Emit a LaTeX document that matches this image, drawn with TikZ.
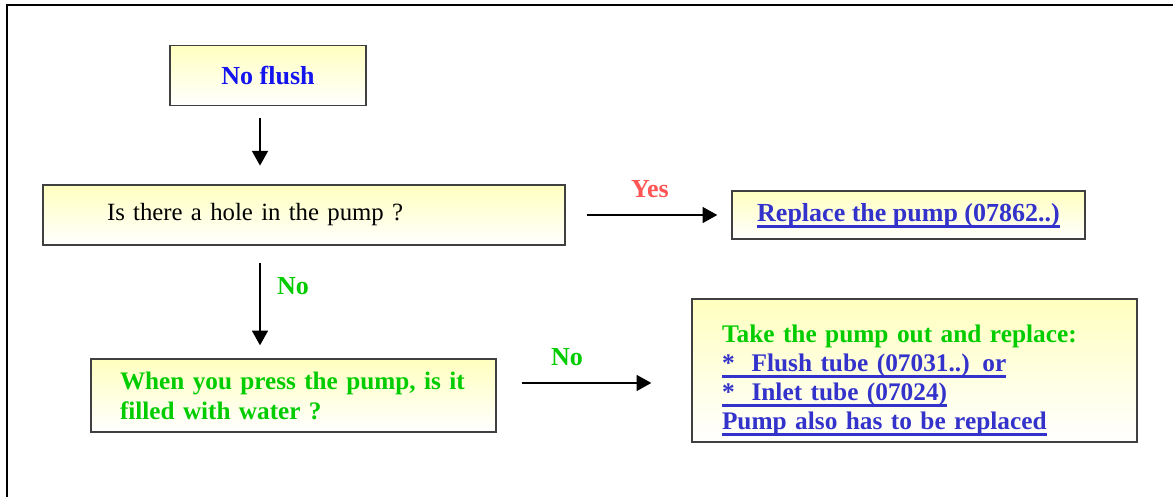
\documentclass[tikz,border=0pt]{standalone}
\usepackage{fontspec}
\setmainfont{Liberation Serif}
\usetikzlibrary{arrows.meta}
\definecolor{flushblue}{RGB}{20,20,240}
\definecolor{linkblue}{RGB}{51,51,204}
\definecolor{okgreen}{RGB}{0,204,0}
\definecolor{yesred}{RGB}{255,85,85}
\definecolor{boxedge}{RGB}{64,64,64}
\newcommand{\lnk}[1]{\textcolor{linkblue}{\setbox0\hbox{#1}\rlap{\smash{\rule[-4.8pt]{\wd0}{2.2pt}}}\box0}}
\tikzset{
    every node/.style={font=\fontsize{19.5}{22.5}\selectfont\bfseries}
}
\tikzset{
    stepbox/.style={rectangle, draw=boxedge, line width=1.1pt, top color=yellow!25, bottom color=white, inner ysep=0pt},
    flow/.style={-{Triangle[length=11pt,width=12pt]}, line width=1pt}
}

\begin{document}
\begin{tikzpicture}[x=0.75pt,y=-0.75pt]
  \useasboundingbox (0,0) rectangle (1173,497);
  \draw[line width=1.6pt] (1173,5) -- (7,5) -- (7,497);

  \node[stepbox, minimum width=147pt, minimum height=45pt, text=flushblue] (noflush) at (268,75.5) {No flush};
  \node[stepbox, minimum width=391.5pt, minimum height=45pt, inner xsep=48pt, text width=295.5pt, align=left,
        font=\fontsize{18.6}{22.5}\selectfont\mdseries] (hole) at (304,215) {Is there a hole in the pump ?};
  \node[stepbox, minimum width=264.75pt, minimum height=36pt] (replace) at (908.5,215) {\lnk{Replace the pump (07862..)}};
  \node[stepbox, minimum width=303.75pt, minimum height=54.75pt, inner xsep=21.75pt, text width=260.25pt, align=left,
        font=\fontsize{18.9}{22.5}\selectfont\bfseries, text=okgreen] (press) at (293.5,395.5)
        {When you press the pump, is it\\filled with water ?};
  \node[stepbox, minimum width=333.75pt, minimum height=107.25pt, inner xsep=22.5pt, text width=288.75pt, align=left,
        font=\fontsize{19}{21.75}\selectfont\bfseries] (takeout) at (914.5,370.5)
        {\rule{0pt}{28pt}\textcolor{okgreen}{Take the pump out and replace:}\\
         \lnk{*~~Flush tube (07031..) or}\\
         \lnk{*~~Inlet tube (07024)}\\
         \lnk{Pump also has to be replaced}};

  % answers
  \node[text=yesred] (yes) at (650,189) {Yes};
  \node[text=okgreen] (no1) at (293,286) {No};
  \node[text=okgreen] (no2) at (567,357) {No};

  \draw[flow, shorten <=9pt, shorten >=14pt] ([xshift=-6pt]noflush.south) -- ([xshift=-6pt]noflush.south |- hole.north);
  \draw[flow, shorten <=16pt, shorten >=10.5pt] (hole.east) -- (replace.west);
  \draw[flow, shorten <=12.75pt, shorten >=9.75pt] ([xshift=-33pt]hole.south) -- ([xshift=-33pt]hole.south |- press.north);
  \draw[flow, shorten <=18.75pt, shorten >=30pt] ([yshift=9.4pt]press.east) -- ([yshift=9.4pt]press.east -| takeout.west);
\end{tikzpicture}
\end{document}
